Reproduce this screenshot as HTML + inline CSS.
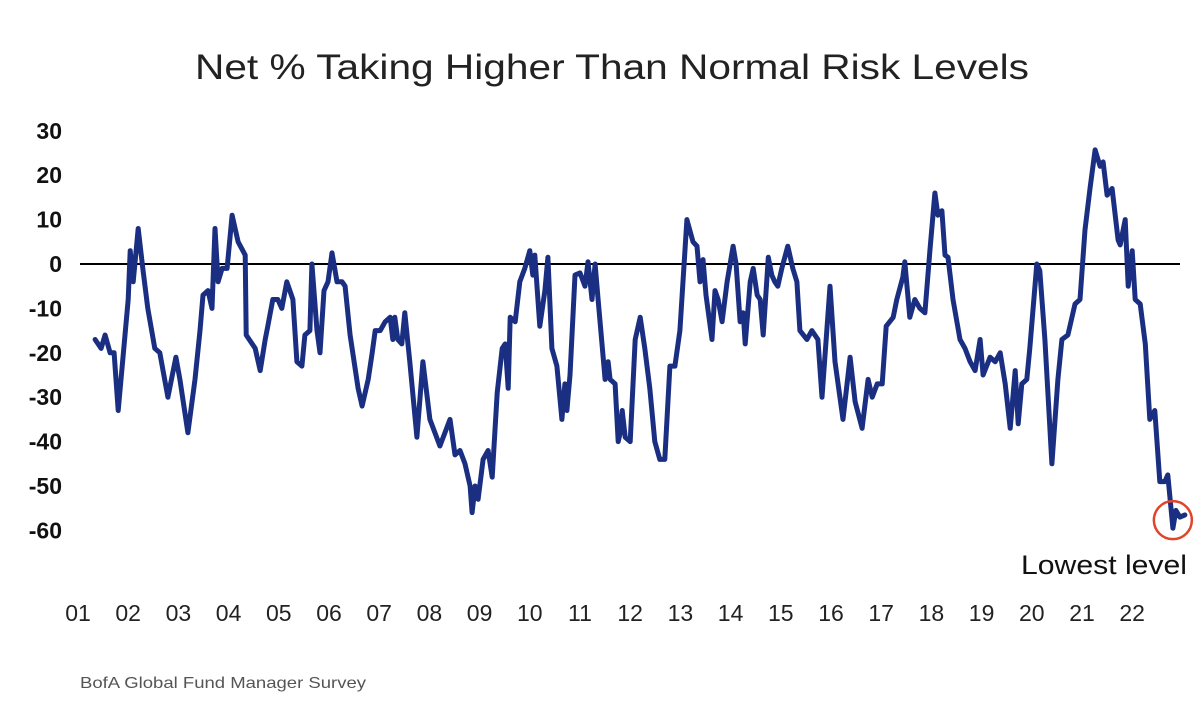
<!DOCTYPE html>
<html><head><meta charset="utf-8">
<style>
html,body{margin:0;padding:0;background:#fff;}
body{width:1200px;height:705px;overflow:hidden;font-family:"Liberation Sans",sans-serif;}
</style></head>
<body>
<svg id="chart" width="1200" height="705" viewBox="0 0 1200 705" xmlns="http://www.w3.org/2000/svg">
<text x="612" y="79" text-anchor="middle" font-family="Liberation Sans, sans-serif" font-size="35" fill="#222" textLength="834" lengthAdjust="spacingAndGlyphs">Net % Taking Higher Than Normal Risk Levels</text>
<g id="yaxis"></g>
<g id="xaxis"></g>
<line id="zero" stroke="#000" stroke-width="2"/>
<path id="series" fill="none" stroke="#1b2f82" stroke-width="5" stroke-linejoin="round" stroke-linecap="round"/>
<circle id="lowmark" r="19" fill="none" stroke="#e0452b" stroke-width="2.5"/>
<text x="1104" y="574" text-anchor="middle" font-family="Liberation Sans, sans-serif" font-size="27" fill="#111" textLength="166" lengthAdjust="spacingAndGlyphs">Lowest level</text>
<text x="80" y="688" font-family="Liberation Sans, sans-serif" font-size="16" fill="#555" textLength="286" lengthAdjust="spacingAndGlyphs">BofA Global Fund Manager Survey</text>
</svg>
<script>
const yTicks=[30,20,10,0,-10,-20,-30,-40,-50,-60];
const xTickLabels=["01","02","03","04","05","06","07","08","09","10","11","12","13","14","15","16","17","18","19","20","21","22"];
const xTickYears=[2001,2002,2003,2004,2005,2006,2007,2008,2009,2010,2011,2012,2013,2014,2015,2016,2017,2018,2019,2020,2021,2022];
const dates=[2001.34,2001.46,2001.54,2001.64,2001.72,2001.80,2002.00,2002.04,2002.10,2002.20,2002.29,2002.39,2002.53,2002.63,2002.79,2002.95,2003.03,2003.19,2003.33,2003.43,2003.49,2003.59,2003.67,2003.73,2003.79,2003.87,2003.97,2004.07,2004.19,2004.33,2004.35,2004.53,2004.63,2004.73,2004.78,2004.88,2004.98,2005.06,2005.16,2005.28,2005.36,2005.46,2005.52,2005.62,2005.66,2005.76,2005.82,2005.90,2005.98,2006.06,2006.16,2006.26,2006.32,2006.42,2006.58,2006.66,2006.78,2006.86,2006.92,2007.02,2007.12,2007.22,2007.27,2007.31,2007.37,2007.45,2007.51,2007.61,2007.75,2007.87,2008.01,2008.21,2008.41,2008.51,2008.61,2008.71,2008.81,2008.85,2008.91,2008.97,2009.07,2009.17,2009.25,2009.35,2009.45,2009.51,2009.57,2009.61,2009.71,2009.80,2009.90,2010.00,2010.06,2010.10,2010.20,2010.30,2010.36,2010.44,2010.54,2010.64,2010.70,2010.74,2010.80,2010.90,2011.00,2011.10,2011.16,2011.24,2011.30,2011.36,2011.50,2011.56,2011.60,2011.70,2011.76,2011.80,2011.84,2011.90,2012.00,2012.10,2012.20,2012.29,2012.39,2012.49,2012.59,2012.69,2012.79,2012.89,2012.99,2013.13,2013.25,2013.33,2013.39,2013.45,2013.51,2013.63,2013.69,2013.75,2013.83,2013.93,2014.05,2014.11,2014.19,2014.25,2014.29,2014.39,2014.45,2014.53,2014.59,2014.65,2014.75,2014.82,2014.88,2014.94,2015.02,2015.14,2015.24,2015.32,2015.38,2015.52,2015.62,2015.74,2015.82,2015.98,2016.08,2016.24,2016.38,2016.48,2016.62,2016.74,2016.82,2016.92,2017.02,2017.10,2017.24,2017.31,2017.43,2017.47,2017.57,2017.67,2017.77,2017.87,2017.97,2018.07,2018.13,2018.21,2018.27,2018.33,2018.43,2018.57,2018.67,2018.77,2018.87,2018.97,2019.03,2019.17,2019.27,2019.37,2019.47,2019.57,2019.67,2019.73,2019.80,2019.90,2019.96,2020.10,2020.16,2020.26,2020.40,2020.52,2020.60,2020.72,2020.86,2020.96,2021.06,2021.16,2021.26,2021.36,2021.42,2021.50,2021.60,2021.72,2021.76,2021.86,2021.92,2022.00,2022.06,2022.16,2022.26,2022.35,2022.45,2022.55,2022.65,2022.71,2022.81,2022.87,2022.95,2023.05];
const values=[-17,-19,-16,-20,-20,-33,-8,3,-4,8,-1,-10,-19,-20,-30,-21,-26,-38,-26,-15,-7,-6,-10,8,-4,-1,-1,11,5,2,-16,-19,-24,-17,-14,-8,-8,-10,-4,-8,-22,-23,-16,-15,0,-15,-20,-6,-4,2.5,-4,-4,-5,-16,-28,-32,-26,-20,-15,-15,-13,-12,-17,-12,-17,-18,-11,-22,-39,-22,-35,-41,-35,-43,-42,-45,-50,-56,-50,-53,-44,-42,-48,-29,-19,-18,-28,-12,-13,-4,-1,3,-2.5,2,-14,-6,1.5,-19,-23,-35,-27,-33,-25,-2.5,-2,-5,0.5,-8,0,-8,-26,-22,-26,-27,-40,-38,-33,-39,-40,-17,-12,-19,-28,-40,-44,-44,-23,-23,-15,10,5,4,-4,1,-7,-17,-6,-8,-13,-4,4,0,-13,-11,-18,-4,-1,-7,-8,-16,1.5,-2.5,-4,-5,-1,4,-1,-4,-15,-17,-15,-17,-30,-5,-22,-35,-21,-31,-37,-26,-30,-27,-27,-14,-12,-8,-3,0.5,-12,-8,-10,-11,3,16,11,12,2,1.5,-8,-17,-19,-22,-24,-17,-25,-21,-22,-20,-27,-37,-24,-36,-27,-26,-19,0,-1.5,-17,-45,-26,-17,-16,-9,-8,7.7,17,25.7,22,23,15.5,17,5.4,4.3,10,-5,3,-8,-9,-18,-35,-33,-49,-49,-47.5,-59.5,-55.5,-57,-56.5];

const X0=78,PX_PER_YEAR=50.2,Y0=264,PX_PER_UNIT=4.44;
function xs(yr){return X0+(yr-2001)*PX_PER_YEAR;}
function ys(v){return Y0-v*PX_PER_UNIT;}
const NS="http://www.w3.org/2000/svg";
const yg=document.getElementById('yaxis');
yTicks.forEach(t=>{
  const el=document.createElementNS(NS,'text');
  
  
  el.setAttribute('x',62);el.setAttribute('y',ys(t)+8);
  el.setAttribute('text-anchor','end');el.setAttribute('font-size','23');
  el.setAttribute('font-weight','bold');el.setAttribute('fill','#111');
  el.setAttribute('font-family','Liberation Sans, sans-serif');
  el.textContent=t;yg.appendChild(el);
});
const xg=document.getElementById('xaxis');
xTickLabels.forEach((l,i)=>{
  const el=document.createElementNS(NS,'text');
  
  
  el.setAttribute('x',xs(xTickYears[i]));el.setAttribute('y',621);
  el.setAttribute('text-anchor','middle');el.setAttribute('font-size','23');
  el.setAttribute('fill','#222');
  el.setAttribute('font-family','Liberation Sans, sans-serif');
  el.textContent=l;xg.appendChild(el);
});
const z=document.getElementById('zero');
z.setAttribute('x1',80);z.setAttribute('x2',1180);z.setAttribute('y1',ys(0));z.setAttribute('y2',ys(0));
let d='';
dates.forEach((t,i)=>{d+=(i?'L':'M')+xs(t).toFixed(1)+','+ys(values[i]).toFixed(1);});
document.getElementById('series').setAttribute('d',d);
let mi=0;values.forEach((v,i)=>{if(v<values[mi])mi=i;});
const c=document.getElementById('lowmark');
c.setAttribute('cx',xs(dates[mi]));c.setAttribute('cy',ys(values[mi])-8);
</script>
</body></html>
